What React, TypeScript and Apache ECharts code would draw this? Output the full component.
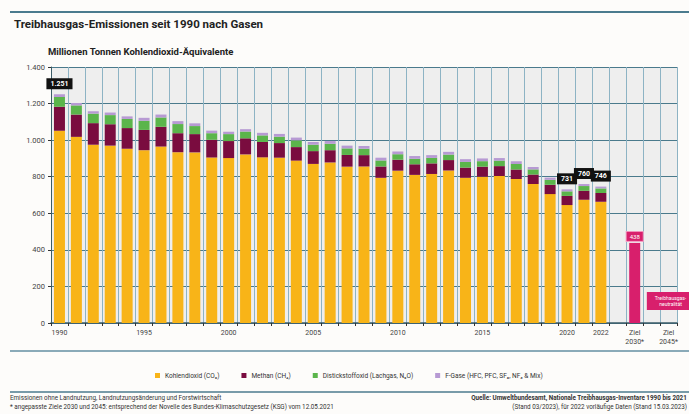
import React, { useEffect, useRef } from "react";
import * as echarts from "echarts";

const categories = [
  "1990", "1991", "1992", "1993", "1994", "1995", "1996", "1997", "1998", "1999",
  "2000", "2001", "2002", "2003", "2004", "2005", "2006", "2007", "2008", "2009",
  "2010", "2011", "2012", "2013", "2014", "2015", "2016", "2017", "2018", "2019",
  "2020", "2021", "2022", "", "Ziel\n2030*", " ", "Ziel\n2045*",
];
const xTickLabels = ["1990", "1995", "2000", "2005", "2010", "2015", "2020", "2022", "Ziel\n2030*", "Ziel\n2045*"];

const co2 = [
  1052, 1018, 975, 970, 953, 945, 965, 934, 933, 905,
  902, 922, 906, 904, 888, 870, 878, 855, 856, 794,
  833, 810, 815, 834, 794, 800, 804, 787, 760, 705,
  645, 674, 663,
];
const methane = [
  130, 122, 118, 117, 113, 111, 108, 104, 100, 97,
  93, 88, 84, 80, 74, 70, 67, 64, 62, 62,
  60, 58, 58, 57, 56, 55, 54, 53, 52, 51,
  50, 49, 48,
];
const n2o = [
  54, 50, 52, 50, 50, 50, 51, 50, 44, 36,
  38, 37, 36, 35, 37, 35, 35, 36, 35, 33,
  30, 30, 30, 30, 31, 30, 30, 30, 28, 27,
  25, 26, 25,
];
const fgas = [
  15, 13, 13, 14, 14, 16, 16, 16, 15, 14,
  13, 13, 14, 15, 15, 15, 15, 15, 15, 15,
  15, 15, 15, 15, 15, 15, 14, 14, 13, 12,
  11, 11, 10,
];
const targetCategories = ["Ziel\n2030*", "Ziel\n2045*"];
const targetValues = [438, 0];
const targetLabels = ["438", "Treibhausgas-\nneutralität"];
const labelledYears = ["1990", "2020", "2021", "2022"];

const seriesNames = [
  "Kohlendioxid (CO₂)",
  "Methan (CH₄)",
  "Distickstoffoxid (Lachgas, N₂O)",
  "F-Gase (HFC, PFC, SF₆, NF₃ & Mix)",
];
const colors = ["#f8b418", "#7a0c3f", "#5bb54b", "#b79ad3"];
const targetColor = "#d81f6c";

const FONT = "Roboto, 'Noto Sans', sans-serif";

function fmtDe(v: number): string {
  return String(Math.round(v)).replace(/\B(?=(\d{3})+(?!\d))/g, ".");
}

export default function App() {
  const ref = useRef<HTMLDivElement>(null);
  useEffect(() => {
    if (!ref.current) return;
    const chart = echarts.init(ref.current, undefined, { renderer: "svg" });
    const pad = (arr: number[]) => categories.map((_, i) => (i < arr.length ? arr[i] : null));
    const gasArrays = [co2, methane, n2o, fgas];

    const gasSeries = gasArrays.map((arr, si) => ({
      name: seriesNames[si],
      type: "bar",
      stack: "total",
      barWidth: 11,
      itemStyle: { color: colors[si] },
      data:
        si === 3
          ? pad(arr).map((v, i) => {
              if (v == null) return null;
              if (labelledYears.includes(categories[i])) {
                const total = co2[i] + methane[i] + n2o[i] + fgas[i];
                return {
                  value: v,
                  label: {
                    show: true,
                    position: "top",
                    distance: 5,
                    formatter: fmtDe(total),
                    backgroundColor: "#111",
                    color: "#fff",
                    fontSize: 7,
                    fontWeight: "bold",
                    fontFamily: FONT,
                    padding: [2, 4, 2, 4],
                  },
                };
              }
              return v;
            })
          : pad(arr),
    }));

    const targetSeries = {
      name: "Ziel",
      type: "bar",
      stack: "total",
      barWidth: 11,
      itemStyle: { color: targetColor },
      data: categories.map((c) => {
        const k = targetCategories.indexOf(c);
        if (k < 0) return null;
        return {
          value: targetValues[k],
          label: {
            show: true,
            position: "top",
            distance: k === 0 ? 2 : 13,
            offset: k === 0 ? [0, 0] : [2, 0],
            formatter: targetLabels[k],
            backgroundColor: targetColor,
            borderColor: "#f2a0c4",
            borderWidth: k === 0 ? 1 : 0,
            color: "#fff",
            fontSize: k === 0 ? 6 : 5,
            lineHeight: k === 0 ? 7 : 6,
            fontFamily: FONT,
            padding: k === 0 ? [1, 3, 1, 3] : [3, 8, 3, 8],
          },
        };
      }),
    };

    chart.setOption({
      animation: false,
      backgroundColor: "#fdfcfa",
      textStyle: { fontFamily: FONT },
      grid: {
        left: 51,
        top: 67,
        width: 626,
        height: 256,
        show: true,
        backgroundColor: "#eeeeee",
        borderWidth: 0,
      },
      legend: {
        data: seriesNames,
        left: 150,
        top: 367,
        icon: "rect",
        itemWidth: 5,
        itemHeight: 5,
        itemGap: 22,
        textStyle: { fontSize: 6.5, color: "#333", fontFamily: FONT },
      },
      xAxis: {
        type: "category",
        data: categories,
        axisLine: { lineStyle: { color: "#3b5c68", width: 1.5 } },
        axisTick: { show: true, interval: 0, length: 3, lineStyle: { color: "#333" } },
        splitLine: { show: true, interval: 0, lineStyle: { color: "#8db3c4", width: 1 } },
        axisLabel: {
          interval: 0,
          fontSize: 7,
          color: "#444",
          margin: 5,
          lineHeight: 9,
          fontFamily: FONT,
          formatter: (v: string) => (xTickLabels.includes(v) ? v : ""),
        },
      },
      yAxis: {
        type: "value",
        min: 0,
        max: 1400,
        interval: 200,
        axisLine: { show: true, lineStyle: { color: "#3b5c68", width: 1 } },
        axisTick: { show: true, length: 3, lineStyle: { color: "#333" } },
        splitLine: { lineStyle: { color: "#4a7a8c", width: 1 } },
        axisLabel: {
          fontSize: 7.5,
          color: "#444",
          margin: 6,
          fontFamily: FONT,
          formatter: (v: number) => fmtDe(v),
        },
      },
      graphic: [
        { type: "line", shape: { x1: 10, y1: 12, x2: 689, y2: 12 }, style: { stroke: "#4b7b8e", lineWidth: 2 } },
        {
          type: "text",
          left: 14,
          top: 18,
          style: { text: "Treibhausgas-Emissionen seit 1990 nach Gasen", fontSize: 11.5, fontWeight: "bold", fill: "#222", fontFamily: FONT },
        },
        {
          type: "text",
          left: 48,
          top: 46,
          style: { text: "Millionen Tonnen Kohlendioxid-Äquivalente", fontSize: 9.5, fontWeight: "bold", fill: "#222", fontFamily: FONT },
        },
        { type: "line", shape: { x1: 10, y1: 351, x2: 689, y2: 351 }, style: { stroke: "#8aaab8", lineWidth: 2 } },
        { type: "line", shape: { x1: 10, y1: 392, x2: 689, y2: 392 }, style: { stroke: "#4b7b8e", lineWidth: 1.5 } },
        {
          type: "text",
          left: 10,
          top: 395,
          style: { text: "Emissionen ohne Landnutzung, Landnutzungsänderung und Forstwirtschaft", fontSize: 6.3, fill: "#333", fontFamily: FONT },
        },
        {
          type: "text",
          left: 10,
          top: 404,
          style: {
            text: "* angepasste Ziele 2030 und 2045: entsprechend der Novelle des Bundes-Klimaschutzgesetz (KSG) vom 12.05.2021",
            fontSize: 6.3,
            fill: "#333",
            fontFamily: FONT,
          },
        },
        {
          type: "text",
          right: 2,
          top: 395,
          style: {
            text: "Quelle: Umweltbundesamt, Nationale Treibhausgas-Inventare 1990 bis 2021",
            fontSize: 6.3,
            fontWeight: "bold",
            fill: "#333",
            fontFamily: FONT,
          },
        },
        {
          type: "text",
          right: 2,
          top: 404,
          style: {
            text: "(Stand 03/2023), für 2022 vorläufige Daten (Stand 15.03.2023)",
            fontSize: 6.3,
            fill: "#333",
            fontFamily: FONT,
          },
        },
      ],
      series: [...gasSeries, targetSeries],
    });
    return () => chart.dispose();
  }, []);
  return (
    <div
      ref={ref}
      style={{ position: "fixed", left: 0, top: 0, width: 689, height: 414 }}
    />
  );
}
